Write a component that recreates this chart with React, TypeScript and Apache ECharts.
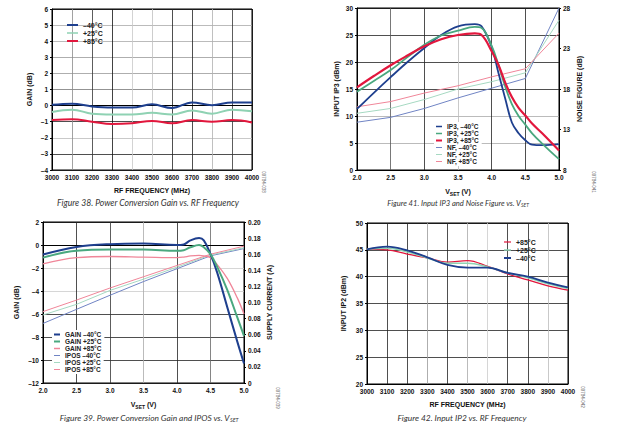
import React, { useEffect, useRef } from "react";
import * as echarts from "echarts";

// ---------- Figure 38: gain vs RF frequency ----------
const FREQ = [3000, 3100, 3200, 3300, 3400, 3500, 3600, 3700, 3800, 3900, 4000];
const GAIN_F_M40 = [0.05, 0.12, -0.05, -0.12, -0.12, 0.08, -0.15, 0.2, 0.02, 0.2, 0.2];
const GAIN_F_P25 = [-0.4, -0.25, -0.5, -0.55, -0.55, -0.45, -0.55, -0.3, -0.5, -0.25, -0.35];
const GAIN_F_P85 = [-0.9, -0.85, -1.0, -1.15, -1.1, -0.95, -1.1, -0.9, -1.0, -0.9, -1.05];

// ---------- Figure 41: IP3 and NF vs VSET ----------
const VSET_IP3 = [2.0, 2.25, 2.5, 2.75, 3.0, 3.25, 3.5, 3.75, 3.85, 4.0, 4.1, 4.2, 4.3, 4.4, 4.5, 4.6, 4.75, 5.0];
const IP3_M40 = [11.3, 14.3, 17.2, 20.0, 22.6, 25.0, 26.6, 27.0, 26.6, 22.8, 18.0, 13.3, 8.8, 6.8, 5.5, 4.7, 4.6, 4.8];
const IP3_P25 = [14.5, 16.5, 18.5, 20.9, 23.2, 24.9, 25.8, 26.5, 26.3, 23.0, 19.5, 15.5, 12.2, 10.0, 8.4, 6.8, 4.9, 2.0];
const IP3_P85 = [15.3, 17.4, 19.4, 21.2, 22.9, 24.2, 25.0, 25.3, 25.0, 22.0, 19.5, 16.2, 13.5, 11.5, 10.1, 8.6, 6.8, 3.6];
const VSET_NF = [2.0, 2.5, 3.0, 3.5, 4.0, 4.5, 5.0];
const NF_M40 = [13.9, 14.5, 15.6, 16.9, 18.1, 19.3, 28.0];
const NF_P25 = [15.0, 15.6, 16.7, 18.0, 18.9, 20.0, 26.5];
const NF_P85 = [15.8, 16.45, 17.5, 18.4, 19.5, 20.5, 24.9];

// ---------- Figure 39: gain and IPOS vs VSET ----------
const VSET_G = [2.0, 2.5, 3.0, 3.5, 4.0, 4.1, 4.2, 4.33, 4.4, 4.5, 4.6, 4.75, 4.9, 5.0];
const GAIN_V_M40 = [-0.83, -0.17, 0.07, 0.12, 0.0, 0.05, 0.4, 0.6, 0.4, -0.8, -2.4, -5.4, -8.4, -10.3];
const GAIN_V_P25 = [-1.1, -0.5, -0.4, -0.4, -0.5, -0.45, -0.2, 0.0, -0.2, -0.8, -1.9, -3.9, -6.3, -7.9];
const GAIN_V_P85 = [-1.65, -1.1, -1.0, -1.05, -1.1, -1.05, -0.95, -0.9, -0.95, -1.1, -1.7, -2.9, -4.6, -6.0];
const VSET_I = [2.0, 2.5, 3.0, 3.5, 4.0, 4.5, 5.0];
const IPOS_M40 = [0.074, 0.0915, 0.109, 0.126, 0.142, 0.158, 0.167];
const IPOS_P25 = [0.0845, 0.0977, 0.115, 0.129, 0.144, 0.159, 0.168];
const IPOS_P85 = [0.0887, 0.103, 0.118, 0.132, 0.146, 0.16, 0.17];

// ---------- Figure 42: IP2 vs RF frequency ----------
const IP2_P85 = [45.15, 45.0, 44.2, 43.5, 42.7, 43.0, 41.9, 40.5, 39.4, 38.3, 37.5];
const IP2_P25 = [45.1, 45.3, 44.6, 43.5, 42.5, 42.5, 41.8, 40.7, 39.8, 38.7, 37.8];
const IP2_M40 = [45.1, 45.6, 44.9, 43.6, 42.2, 41.7, 41.7, 40.7, 40.0, 38.9, 38.0];

const BLUE = "#1e3f8e";
const GREEN = "#4aa87f";
const LGREEN = "#8fd2b3";
const RED = "#e2173d";
const TBLUE = "#7084c4";
const TGREEN = "#a6d9c2";
const PINK = "#f08699";

const FONT = "Liberation Sans";
const CAPFONT = "Lato";
const minus = (v: number, d = 0) => (v < 0 ? "\u2013" + Math.abs(v).toFixed(d) : v.toFixed(d));

const pairs = (xs: number[], ys: number[]) => xs.map((x, i) => [x, ys[i]]);

const label = { fontFamily: FONT, fontSize: 6.5, fontWeight: "bold" as const, color: "#111" };
const nameStyle = () => ({
  fontFamily: FONT,
  fontSize: 7,
  fontWeight: "bold" as const,
  color: "#111",
  rich: {
    v: { fontFamily: FONT, fontSize: 7, fontWeight: "bold", color: "#111" },
    s: { fontFamily: FONT, fontSize: 5, fontWeight: "bold", color: "#111", padding: [4, 0, 0, 0] },
  },
});

function line(name: string, xi: number, yi: number, data: number[][], color: string, width: number, smooth = true) {
  return {
    type: "line",
    name,
    xAxisIndex: xi,
    yAxisIndex: yi,
    data,
    symbol: "none",
    smooth: smooth ? 0.4 : false,
    itemStyle: { color },
    lineStyle: { color, width },
    z: width > 1.5 ? 3 : 2,
  };
}

function xAxisCfg(gridIndex: number, min: number, max: number, interval: number, colors: string[], fmt: (v: number) => string, name: string) {
  return {
    type: "value",
    gridIndex,
    min,
    max,
    interval,
    name,
    nameLocation: "middle",
    nameGap: 17,
    nameTextStyle: nameStyle(),
    axisLine: { show: true, lineStyle: { color: "#000", width: 1 } },
    axisTick: { show: false },
    axisLabel: { ...label, margin: 4, formatter: fmt },
    splitLine: { show: true, lineStyle: { color: colors, width: 0.8 } },
  };
}

function yAxisCfg(gridIndex: number, min: number, max: number, interval: number, colors: string[] | null, fmt: (v: number) => string, name: string, position: "left" | "right", nameGap: number) {
  return {
    type: "value",
    gridIndex,
    position,
    min,
    max,
    interval,
    name,
    nameLocation: "middle",
    nameGap,
    nameRotate: 90,
    nameTextStyle: nameStyle(),
    axisLine: { show: true, lineStyle: { color: "#000", width: 1 } },
    axisTick: { show: true, length: 2, lineStyle: { color: "#000" } },
    axisLabel: { ...label, margin: 4, formatter: fmt },
    splitLine: colors ? { show: true, lineStyle: { color: colors, width: 0.8 } } : { show: false },
  };
}

// items: [name, line thickness]
function legendCfg(items: [string, number][], left: number, top: number, rowH: number, itemW: number, bg: string | undefined, fontSize = 6.5) {
  return {
    data: items.map(([name, t]) => ({ name, icon: `path://M0,0H${itemW}V${t}H0Z` })),
    orient: "vertical",
    left,
    top,
    itemWidth: itemW,
    itemHeight: rowH,
    itemGap: 0,
    padding: bg ? [1, 3, 1, 2] : 0,
    backgroundColor: bg || "transparent",
    selectedMode: false,
    textStyle: { fontFamily: FONT, fontSize, fontWeight: "bold", color: "#222", lineHeight: rowH },
  };
}

const caption = (text: string, x: number, y: number, size: number, rich = false) => ({
  type: "text",
  x,
  y,
  style: {
    text,
    fill: "#333",
    fontFamily: CAPFONT,
    fontStyle: "italic",
    fontSize: size,
    align: "center",
    verticalAlign: "middle",
    rich: rich
      ? {
          s: { fontFamily: CAPFONT, fontStyle: "italic", fontSize: size * 0.65, fill: "#333", padding: [4, 0, 0, 0] },
        }
      : undefined,
  },
});

const code = (text: string, x: number, y: number) => ({
  type: "text",
  x,
  y,
  rotation: -Math.PI / 2,
  style: { text, fill: "#666", fontFamily: FONT, fontSize: 4.5, align: "center", verticalAlign: "middle" },
});

export default function App() {
  const ref = useRef<HTMLDivElement>(null);
  useEffect(() => {
    if (!ref.current) return;
    const chart = echarts.init(ref.current, undefined, { renderer: "svg" });
    const option: any = {
      animation: false,
      backgroundColor: "#fff",
      grid: [
        { left: 52, top: 9, width: 200, height: 161, show: true, borderColor: "#000", borderWidth: 1 },
        { left: 357, top: 8, width: 202, height: 162, show: true, borderColor: "#000", borderWidth: 1 },
        { left: 43, top: 222, width: 201, height: 161, show: true, borderColor: "#000", borderWidth: 1 },
        { left: 367, top: 223, width: 201, height: 161, show: true, borderColor: "#000", borderWidth: 1 },
      ],
      xAxis: [
        xAxisCfg(0, 3000, 4000, 100, ["#000", "#8a8a8a", "#333", "#111", "#c8c8c8", "#c0c0c0", "#222", "#222", "#b0b0b0", "#333", "#000"], (v) => String(v), "RF FREQUENCY (MHz)"),
        xAxisCfg(1, 2, 5, 0.5, ["#000", "#555", "#222", "#bbb", "#222", "#222", "#000"], (v) => v.toFixed(1), "{v|V}{s|SET}{v| (V)}"),
        xAxisCfg(2, 2, 5, 0.5, ["#000", "#222", "#333", "#aaa", "#222", "#666", "#000"], (v) => v.toFixed(1), "{v|V}{s|SET}{v| (V)}"),
        xAxisCfg(3, 3000, 4000, 100, ["#000", "#222", "#222", "#999", "#222", "#aaa", "#ccc", "#222", "#222", "#bbb", "#000"], (v) => String(v), "RF FREQUENCY (MHz)"),
      ],
      yAxis: [
        yAxisCfg(0, -4, 6, 1, ["#000", "#222", "#bbb", "#222", "#aaa", "#777", "#999", "#999", "#aaa", "#aaa", "#000"], (v) => minus(v), "GAIN (dB)", "left", 19),
        yAxisCfg(1, 0, 30, 5, ["#000", "#aaa", "#aaa", "#222", "#222", "#222", "#000"], (v) => String(v), "INPUT IP3 (dBm)", "left", 17),
        yAxisCfg(1, 8, 28, 5, null, (v) => String(v), "NOISE FIGURE (dB)", "right", 17),
        yAxisCfg(2, -12, 2, 2, ["#000", "#222", "#222", "#222", "#ccc", "#ccc", "#ccc", "#000"], (v) => minus(v), "GAIN (dB)", "left", 23),
        yAxisCfg(2, 0, 0.2, 0.02, null, (v) => (v === 0 ? "0" : v.toFixed(2)), "SUPPLY CURRENT (A)", "right", 22),
        yAxisCfg(3, 20, 50, 5, ["#000", "#222", "#222", "#222", "#222", "#222", "#000"], (v) => String(v), "INPUT IP2 (dBm)", "left", 20),
      ],
      legend: [
        legendCfg([["\u201340\u00b0C", 2], ["+25\u00b0C", 1.5], ["+85\u00b0C", 2]], 67, 21, 8, 11, undefined, 7),
        legendCfg(
          [["IP3, \u201340\u00b0C", 1.5], ["IP3, +25\u00b0C", 1.5], ["IP3, +85\u00b0C", 2], ["NF, \u201340\u00b0C", 1], ["NF, +25\u00b0C", 1], ["NF, +85\u00b0C", 1]],
          434, 122, 6.2, 6, "#fff"
        ),
        legendCfg([["GAIN \u201340\u00b0C", 2], ["GAIN +25\u00b0C", 2], ["GAIN +85\u00b0C", 1.5]], 52, 330, 6, 6, "#fff"),
        legendCfg([["IPOS \u201340\u00b0C", 1], ["IPOS +25\u00b0C", 1], ["IPOS +85\u00b0C", 1]], 52, 351, 6, 6, "#fff"),
        legendCfg([["+85\u00b0C ", 1.2], ["+25\u00b0C ", 1.5], ["\u201340\u00b0C ", 2]], 504, 238, 8, 7, undefined, 7),
      ],
      series: [
        line("\u201340\u00b0C", 0, 0, pairs(FREQ, GAIN_F_M40), BLUE, 2),
        line("+25\u00b0C", 0, 0, pairs(FREQ, GAIN_F_P25), LGREEN, 2),
        line("+85\u00b0C", 0, 0, pairs(FREQ, GAIN_F_P85), RED, 2),

        line("NF, \u201340\u00b0C", 1, 2, pairs(VSET_NF, NF_M40), TBLUE, 1, false),
        line("NF, +25\u00b0C", 1, 2, pairs(VSET_NF, NF_P25), TGREEN, 1, false),
        line("NF, +85\u00b0C", 1, 2, pairs(VSET_NF, NF_P85), PINK, 1, false),
        line("IP3, \u201340\u00b0C", 1, 1, pairs(VSET_IP3, IP3_M40), BLUE, 1.8),
        line("IP3, +25\u00b0C", 1, 1, pairs(VSET_IP3, IP3_P25), GREEN, 1.8),
        line("IP3, +85\u00b0C", 1, 1, pairs(VSET_IP3, IP3_P85), RED, 2.2),

        line("IPOS \u201340\u00b0C", 2, 4, pairs(VSET_I, IPOS_M40), TBLUE, 1, false),
        line("IPOS +25\u00b0C", 2, 4, pairs(VSET_I, IPOS_P25), TGREEN, 1, false),
        line("IPOS +85\u00b0C", 2, 4, pairs(VSET_I, IPOS_P85), PINK, 1, false),
        line("GAIN \u201340\u00b0C", 2, 3, pairs(VSET_G, GAIN_V_M40), BLUE, 2),
        line("GAIN +25\u00b0C", 2, 3, pairs(VSET_G, GAIN_V_P25), GREEN, 2),
        line("GAIN +85\u00b0C", 2, 3, pairs(VSET_G, GAIN_V_P85), PINK, 1.3),

        line("+85\u00b0C ", 3, 5, pairs(FREQ, IP2_P85), RED, 1.3),
        line("+25\u00b0C ", 3, 5, pairs(FREQ, IP2_P25), LGREEN, 1.6),
        line("\u201340\u00b0C ", 3, 5, pairs(FREQ, IP2_M40), BLUE, 1.8),
      ],
      graphic: [
        caption("Figure 38. Power Conversion Gain vs. RF Frequency", 148, 203, 8.6),
        caption("Figure 41. Input IP3 and Noise Figure vs. V{s|SET}", 458, 203, 7.6, true),
        caption("Figure 39. Power Conversion Gain and IPOS vs. V{s|SET}", 149, 418, 8.4, true),
        caption("Figure 42. Input IP2 vs. RF Frequency", 462, 418, 8.4),
        code("09784-038", 263, 182),
        code("09784-041", 593, 182),
        code("09784-039", 277, 398),
        code("09784-042", 582, 397),
      ],
    };
    chart.setOption(option);
    return () => chart.dispose();
  }, []);
  return <div ref={ref} style={{ position: "absolute", left: 0, top: 0, width: 620, height: 429 }} />;
}
